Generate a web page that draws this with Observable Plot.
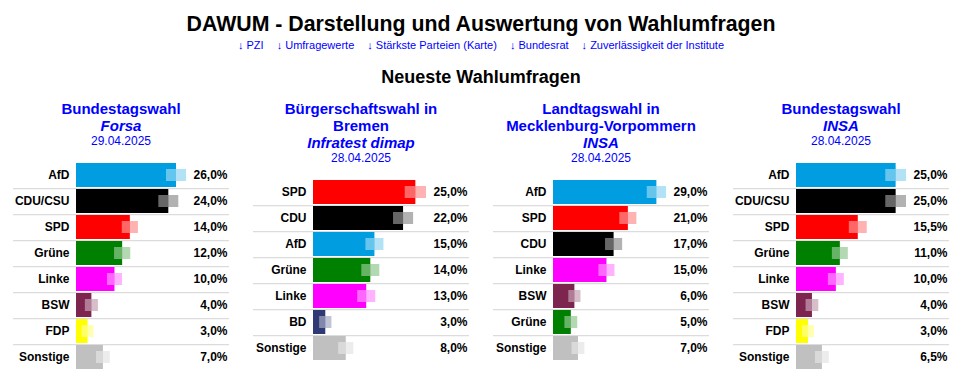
<!DOCTYPE html>
<html><head><meta charset="utf-8">
<script src="https://cdn.jsdelivr.net/npm/d3@7"></script>
<script src="https://cdn.jsdelivr.net/npm/@observablehq/plot@0.6"></script>
<style>
html,body{margin:0;padding:0;background:#fff;overflow:hidden;}
body{width:968px;height:376px;position:relative;font-family:"Liberation Sans",Arial,sans-serif;color:#000;}
#title{position:absolute;left:0;width:962px;top:10.6px;height:26px;line-height:26px;font-size:21.3px;font-weight:bold;text-align:center;white-space:nowrap;}
#links{position:absolute;left:0;width:962px;top:38.2px;height:14px;line-height:14px;font-size:11px;color:#0000ff;display:flex;justify-content:center;gap:13px;white-space:nowrap;}
#sub{position:absolute;left:0;width:962px;top:65.8px;height:22px;line-height:22px;font-size:18px;font-weight:bold;text-align:center;}
.col{position:absolute;top:100.3px;width:240px;}
.ptitle{width:200px;margin:0 auto;text-align:center;color:#0000ff;font-size:15px;font-weight:bold;line-height:17px;}
.pinst{text-align:center;color:#0000ff;font-size:15px;font-weight:bold;font-style:italic;line-height:17px;}
.pdate{text-align:center;color:#0000ff;font-size:12px;line-height:14px;}
.tbl{margin-left:12px;margin-top:11.5px;width:216px;}
.tbl svg{display:block;overflow:visible;}
</style></head>
<body>
<div id="title"></div>
<div id="links"></div>
<div id="sub"></div>
<script>
// ---- data ----
const pageTitle = "DAWUM - Darstellung und Auswertung von Wahlumfragen";
const linkLabels = ["PZI","Umfragewerte","Stärkste Parteien (Karte)","Bundesrat","Zuverlässigkeit der Institute"];
const sectionTitle = "Neueste Wahlumfragen";

const partyNames  = ["AfD","CDU/CSU","CDU","SPD","Grüne","Linke","BSW","FDP","BD","Sonstige"];
const partyColors = ["#009ee0","#000000","#000000","#ff0000","#008000","#ff00ff","#7d254f","#ffff00","#2f3a75","#c0c0c0"];

const panelTitles     = ["Bundestagswahl","Bürgerschaftswahl in Bremen","Landtagswahl in Mecklenburg-Vorpommern","Bundestagswahl"];
const panelInstitutes = ["Forsa","Infratest dimap","INSA","INSA"];
const panelDates      = ["29.04.2025","28.04.2025","28.04.2025","28.04.2025"];

const forsaParties = ["AfD","CDU/CSU","SPD","Grüne","Linke","BSW","FDP","Sonstige"];
const forsaValues  = [26,24,14,12,10,4,3,7];
const forsaMargins = [2.6,2.6,2.1,2.1,1.95,1.7,1.55,1.8];

const bremenParties = ["SPD","CDU","AfD","Grüne","Linke","BD","Sonstige"];
const bremenValues  = [25,22,15,14,13,3,8];
const bremenMargins = [2.6,2.45,2.2,2.2,2.2,1.5,1.85];

const mvParties = ["AfD","SPD","CDU","Linke","BSW","Grüne","Sonstige"];
const mvValues  = [29,21,17,15,6,5,7];
const mvMargins = [2.7,2.4,2.4,2.25,1.7,1.8,1.8];

const insaParties = ["AfD","CDU/CSU","SPD","Grüne","Linke","BSW","FDP","Sonstige"];
const insaValues  = [25,25,15.5,11,10,4,3,6.5];
const insaMargins = [2.6,2.6,2.25,2,2,1.6,1.5,1.75];

// ---- layout ----
document.getElementById("title").textContent = pageTitle;
document.getElementById("sub").textContent = sectionTitle;
const linksEl = document.getElementById("links");
linkLabels.forEach(l => { const s = document.createElement("span"); s.textContent = "↓ " + l; linksEl.appendChild(s); });

const colorOf = new Map(partyNames.map((p,i)=>[p, partyColors[i]]));
const fmt = v => v.toFixed(1).replace(".", ",") + "%";

const panels = [
  {parties: forsaParties, values: forsaValues, margins: forsaMargins, barStart: 63},
  {parties: bremenParties, values: bremenValues, margins: bremenMargins, barStart: 60},
  {parties: mvParties, values: mvValues, margins: mvMargins, barStart: 60},
  {parties: insaParties, values: insaValues, margins: insaMargins, barStart: 63}
];

const step = 26.43, gap = 2.43;

panels.forEach((p, k) => {
  const col = document.createElement("div");
  col.className = "col";
  col.style.left = (1 + 240 * k) + "px";
  const t = document.createElement("div"); t.className = "ptitle"; t.textContent = panelTitles[k];
  const i = document.createElement("div"); i.className = "pinst"; i.textContent = panelInstitutes[k];
  const d = document.createElement("div"); d.className = "pdate"; d.textContent = panelDates[k];
  const tb = document.createElement("div"); tb.className = "tbl";
  col.append(t, i, d, tb);
  document.body.appendChild(col);

  const rows = p.parties.map((name, j) => ({party: name, value: p.values[j], margin: p.margins[j], color: colorOf.get(name)}));
  const xMax = d3.max(rows, r => r.value + r.margin);
  const h = rows.length * step;
  const chart = Plot.plot({
    width: 216, height: h,
    marginLeft: 0, marginRight: 0, marginTop: 0, marginBottom: 0,
    style: {fontFamily: '"Liberation Sans", Arial, sans-serif', fontSize: "12px", background: "transparent", overflow: "visible"},
    x: {domain: [0, xMax], range: [p.barStart, 173], axis: null},
    y: {domain: p.parties, range: [0, h], paddingInner: gap / step, paddingOuter: gap / 2 / step, axis: null},
    color: {type: "identity"},
    marks: [
      Plot.ruleY(rows.slice(0, -1), {y: "party", dy: step / 2, stroke: "#d3d3d3", strokeWidth: 1}),
      Plot.barX(rows, {x1: 0, x2: "value", y: "party", fill: "color"}),
      Plot.barX(rows, {x1: r => r.value - r.margin, x2: "value", y: "party", fill: "white", fillOpacity: 0.4, insetTop: 6, insetBottom: 6}),
      Plot.barX(rows, {x1: "value", x2: r => r.value + r.margin, y: "party", fill: "color", fillOpacity: 0.3, insetTop: 6, insetBottom: 6}),
      Plot.text(rows, {x: 0, y: "party", text: "party", textAnchor: "end", dx: -7, fontWeight: "bold", fill: "#000"}),
      Plot.text(rows, {y: "party", text: r => fmt(r.value), frameAnchor: "right", textAnchor: "end", dx: -2, fontWeight: "bold", fill: "#000"})
    ]
  });
  tb.appendChild(chart);
});
</script>
</body></html>
